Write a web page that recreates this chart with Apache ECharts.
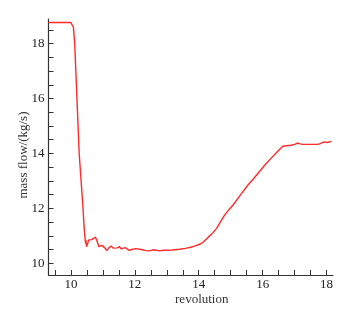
<!DOCTYPE html>
<html lang="en">
<head>
    <meta charset="utf-8">
    <title>mass flow</title>
    <script src="https://cdn.jsdelivr.net/npm/echarts@6/dist/echarts.min.js"></script>
    <style>
        html, body { margin: 0; padding: 0; background: #fff; }
        #main { width: 357px; height: 311px; }
    </style>
</head>
<body>
<div id="main"></div>
<script type="text/javascript">
    // revolution (x) and mass flow (y)
    var revolution = [
        9.3, 9.6, 9.9, 10.0, 10.05, 10.08, 10.12, 10.19, 10.26, 10.32,
        10.38, 10.42, 10.44, 10.46, 10.47, 10.49, 10.52, 10.56, 10.6, 10.65,
        10.7, 10.77, 10.82, 10.88, 10.92, 10.97, 11.02, 11.07, 11.12, 11.18,
        11.26, 11.32, 11.37, 11.45, 11.52, 11.58, 11.63, 11.7, 11.76, 11.83,
        11.9, 12.03, 12.2, 12.35, 12.45, 12.6, 12.76, 12.9, 13.17, 13.4,
        13.58, 13.75, 13.89, 14.05, 14.15, 14.3, 14.41, 14.56, 14.72, 14.82,
        14.95, 15.08, 15.3, 15.54, 15.7, 15.85, 16.05, 16.26, 16.45, 16.63,
        16.75, 16.88, 17.0, 17.09, 17.17, 17.25, 17.5, 17.71, 17.8, 17.92,
        17.98, 18.02, 18.08, 18.15
    ];
    var massFlow = [
        18.77, 18.77, 18.77, 18.77, 18.74, 18.6, 18.0, 16.0, 14.0, 13.0,
        12.0, 11.2, 10.95, 10.72, 10.85, 10.6, 10.7, 10.85, 10.87, 10.86,
        10.9, 10.95, 10.8, 10.6, 10.54, 10.65, 10.7, 10.55, 10.46, 10.55,
        10.63, 10.55, 10.48, 10.56, 10.6, 10.52, 10.5, 10.57, 10.55, 10.47,
        10.5, 10.53, 10.5, 10.46, 10.45, 10.49, 10.45, 10.47, 10.48, 10.51,
        10.54, 10.58, 10.63, 10.7, 10.78, 10.95, 11.07, 11.27, 11.59, 11.77,
        11.96, 12.13, 12.48, 12.85, 13.06, 13.27, 13.55, 13.82, 14.05, 14.26,
        14.28, 14.3, 14.33, 14.38, 14.35, 14.33, 14.33, 14.33, 14.36, 14.42,
        14.4, 14.4, 14.44, 14.44
    ];
    var xTickValues = [9.5, 10, 10.5, 11, 11.5, 12, 12.5, 13, 13.5, 14, 14.5, 15, 15.5, 16, 16.5, 17, 17.5, 18];
    var xLabelValues = [10, 12, 14, 16, 18];
    var yTickValues = [10, 10.5, 11, 11.5, 12, 12.5, 13, 13.5, 14, 14.5, 15, 15.5, 16, 16.5, 17, 17.5, 18, 18.5];
    var yLabelValues = [10, 12, 14, 16, 18];

    var points = [];
    for (var i = 0; i < revolution.length; i++) {
        points.push([revolution[i], massFlow[i]]);
    }

    var serif = '"Liberation Serif", "DejaVu Serif", serif';
    var myChart = echarts.init(document.getElementById('main'));
    var option = {
        animation: false,
        grid: {left: 48.5, top: 19, right: 24, bottom: 33, containLabel: false},
        xAxis: {
            type: 'value',
            min: 9.3,
            max: 18.2,
            name: 'revolution',
            nameLocation: 'middle',
            nameGap: 18,
            nameMoveOverlap: false,
            nameTextStyle: {fontFamily: serif, fontSize: 13, color: '#333', padding: [0, 0, 0, 22]},
            axisLine: {show: true, lineStyle: {color: '#333', width: 1.2}},
            axisTick: {show: true, inside: true, length: 5, customValues: xTickValues, lineStyle: {color: '#333'}},
            axisLabel: {customValues: xLabelValues, fontFamily: serif, fontSize: 13, color: '#222', margin: 3},
            splitLine: {show: false}
        },
        yAxis: {
            type: 'value',
            min: 9.57,
            max: 18.9,
            name: 'mass flow/(kg/s)',
            nameLocation: 'middle',
            nameGap: 18,
            nameMoveOverlap: false,
            nameTextStyle: {fontFamily: serif, fontSize: 13, color: '#333', padding: [0, 16, 0, 0]},
            axisLine: {show: true, lineStyle: {color: '#333', width: 1.2}},
            axisTick: {show: true, inside: true, length: 5, customValues: yTickValues, lineStyle: {color: '#333'}},
            axisLabel: {customValues: yLabelValues, fontFamily: serif, fontSize: 13, color: '#222', margin: 4},
            splitLine: {show: false}
        },
        series: [
            {
                type: 'line',
                data: points,
                showSymbol: false,
                lineStyle: {color: '#ff2a2a', width: 1.4},
                itemStyle: {color: '#ff2a2a'}
            }
        ]
    };
    myChart.setOption(option);
</script>
</body>
</html>
